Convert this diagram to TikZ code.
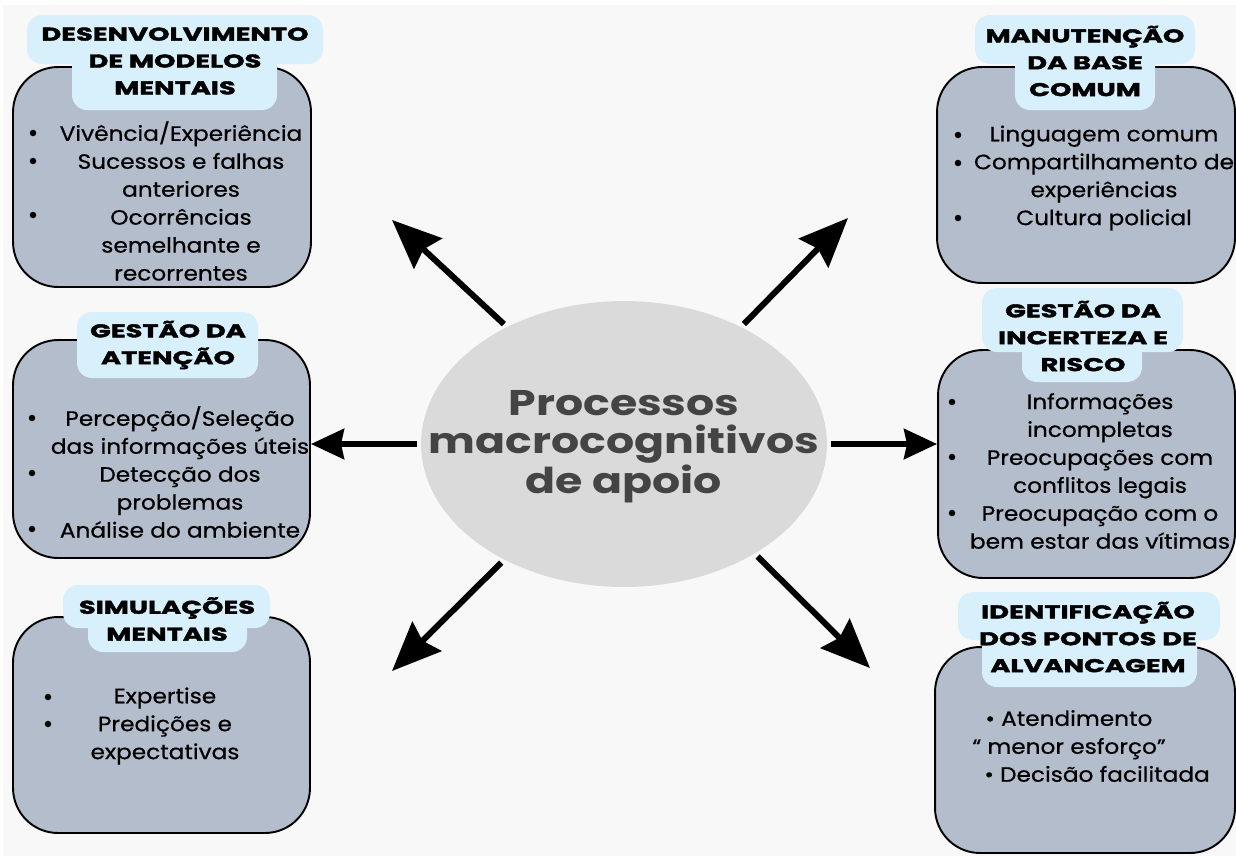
\documentclass[tikz,border=0pt]{standalone}
\usepackage{fontspec}
\setmainfont{Poppins}
\newfontfamily\titulofont[FakeStretch=1.48,FakeBold=2]{Poppins}
\newfontfamily\itensfont[FakeStretch=1.12,FakeBold=0.6]{Poppins}
\newfontfamily\centrofont[FakeStretch=1.24]{Poppins}
\usetikzlibrary{arrows.meta,shapes.geometric}

\definecolor{fundo}{HTML}{F8F8F8}
\definecolor{caixa}{HTML}{B4BDCB}
\definecolor{aba}{HTML}{D8F0FC}
\definecolor{elipse}{HTML}{DADADA}
\definecolor{textocentro}{HTML}{444444}

\begin{document}
\begin{tikzpicture}[x=0.02cm,y=-0.02cm,
  corpo/.style={draw=black, line width=1.1pt, fill=caixa, rounded corners=0.9cm, inner sep=0pt},
  aba_fill/.style={fill=aba, rounded corners=0.3cm},
  titulo/.style={font=\titulofont\bfseries\fontsize{10.5}{15.3}\selectfont, align=center, inner sep=0pt},
  itens/.style={font=\itensfont\fontsize{11.8}{15.9}\selectfont, align=center, inner sep=0pt, text=black},
  marca/.style={circle, fill=black, inner sep=0pt, minimum size=0.13cm},
  seta/.style={line width=0.12cm, -{Stealth[length=0.98cm,width=0.82cm,inset=0.12cm]}, shorten <=0.08cm},
  seta_h/.style={line width=0.12cm, -{Stealth[length=0.66cm,width=0.6cm,inset=0.06cm]}, shorten <=0.08cm}]

    \useasboundingbox (0,0) rectangle (1236,856);
    \fill[white] (0,0) rectangle (1236,856);
    \fill[fundo] (3,5) rectangle (1236,856);

    % caixas
    \node[corpo, minimum width=5.96cm, minimum height=4.4cm] (corpoA) at (162,177) {};
    \node[corpo, minimum width=5.96cm, minimum height=4.32cm] (corpoB) at (1086,175) {};
    \node[corpo, minimum width=5.94cm, minimum height=4.36cm] (corpoC) at (161.5,449) {};
    \node[corpo, minimum width=5.94cm, minimum height=4.56cm] (corpoD) at (1086.5,464) {};
    \node[corpo, minimum width=5.94cm, minimum height=4.32cm] (corpoE) at (161.5,725) {};
    \node[corpo, minimum width=6.0cm, minimum height=4.12cm] (corpoF) at (1085,750) {};

    % abas
    \fill[aba_fill] (27,15) rectangle (323,64);
    \fill[aba_fill] (72,50) rectangle (277,110);
    \fill[aba_fill] (975,15) rectangle (1195,64);
    \fill[aba_fill] (1015,50) rectangle (1155,110);
    \fill[aba_fill] (77,312) rectangle (258,378);
    \fill[aba_fill] (982,288) rectangle (1183,352);
    \fill[aba_fill] (1022,340) rectangle (1142,382);
    \fill[aba_fill] (63,585) rectangle (270,628);
    \fill[aba_fill] (88,615) rectangle (247,652);
    \fill[aba_fill] (958,592) rectangle (1220,640);
    \fill[aba_fill] (982,630) rectangle (1197,687);

    \node[titulo] (tituloA) at (175,61) {DESENVOLVIMENTO\\DE MODELOS\\MENTAIS};
    \node[titulo] (tituloB) at (1085,61) {MANUTENÇÃO\\DA BASE\\COMUM};
    \node[titulo] (tituloC) at (168,345) {GESTÃO DA\\ATENÇÃO};
    \node[titulo] (tituloD) at (1083,336) {GESTÃO DA\\INCERTEZA E\\RISCO};
    \node[titulo] (tituloE) at (167,619) {SIMULAÇÕES\\MENTAIS};
    \node[titulo] (tituloF) at (1088,637) {IDENTIFICAÇÃO\\DOS PONTOS DE\\ALVANCAGEM};

    % itens
    \node[itens] (itensA) at (181,201) {Vivência/Experiência\\Sucessos e falhas\\anteriores\\Ocorrências\\semelhante e\\recorrentes};
    \node[itens] (itensB) at (1104,178) {Linguagem comum\\Compartilhamento de\\experiências\\Cultura policial};
    \node[itens] (itensC) at (180,472) {Percepção/Seleção\\das informações úteis\\Detecção dos\\problemas\\Análise do ambiente};
    \node[itens] (itensD) at (1100,471) {Informações\\incompletas\\Preocupações com\\conflitos legais\\Preocupação com o\\bem estar das vítimas};
    \node[itens] (itensE) at (165,726) {Expertise\\Predições e\\expectativas};
    \node[itens, align=left, anchor=west] (itensF) at (972,746) {\hspace*{0.26cm}\textbullet\ Atendimento\\“ menor esforço”\\\hspace*{0.24cm}\textbullet\ Decisão facilitada};

    \foreach \y in {133,161,215} \node[marca] (mA\y) at (33,\y) {};
    \foreach \y in {135,163,218} \node[marca] (mB\y) at (958,\y) {};
    \foreach \y in {418,473,529} \node[marca] (mC\y) at (32,\y) {};
    \foreach \y in {402,457,513} \node[marca] (mD\y) at (952,\y) {};
    \foreach \y in {697,724} \node[marca] (mE\y) at (48,\y) {};

    % centro
    \node[ellipse, fill=elipse, minimum width=8.12cm, minimum height=5.72cm, inner sep=0pt] (centro) at (624,444) {};
    \node[font=\centrofont\bfseries\fontsize{20.3}{21.5}\selectfont, text=textocentro, align=center, inner sep=0pt]
          (textoCentro) at (624,447) {Processos\\macrocognitivos\\de apoio};

    % setas
    \coordinate (pontaNO) at (392,220);
    \coordinate (pontaNE) at (848,218);
    \coordinate (pontaSO) at (392,671);
    \coordinate (pontaSE) at (870,668);

    \draw[seta] (centro.135) -- (pontaNO);
    \draw[seta] (centro.45) -- (pontaNE);
    \draw[seta] (centro.224) -- (pontaSO);
    \draw[seta] (centro.320) -- (pontaSE);
    \draw[seta_h] (centro.west) -- (corpoC.east |- centro.west);
    \draw[seta_h] (centro.east) -- (corpoD.west |- centro.east);

\end{tikzpicture}
\end{document}
